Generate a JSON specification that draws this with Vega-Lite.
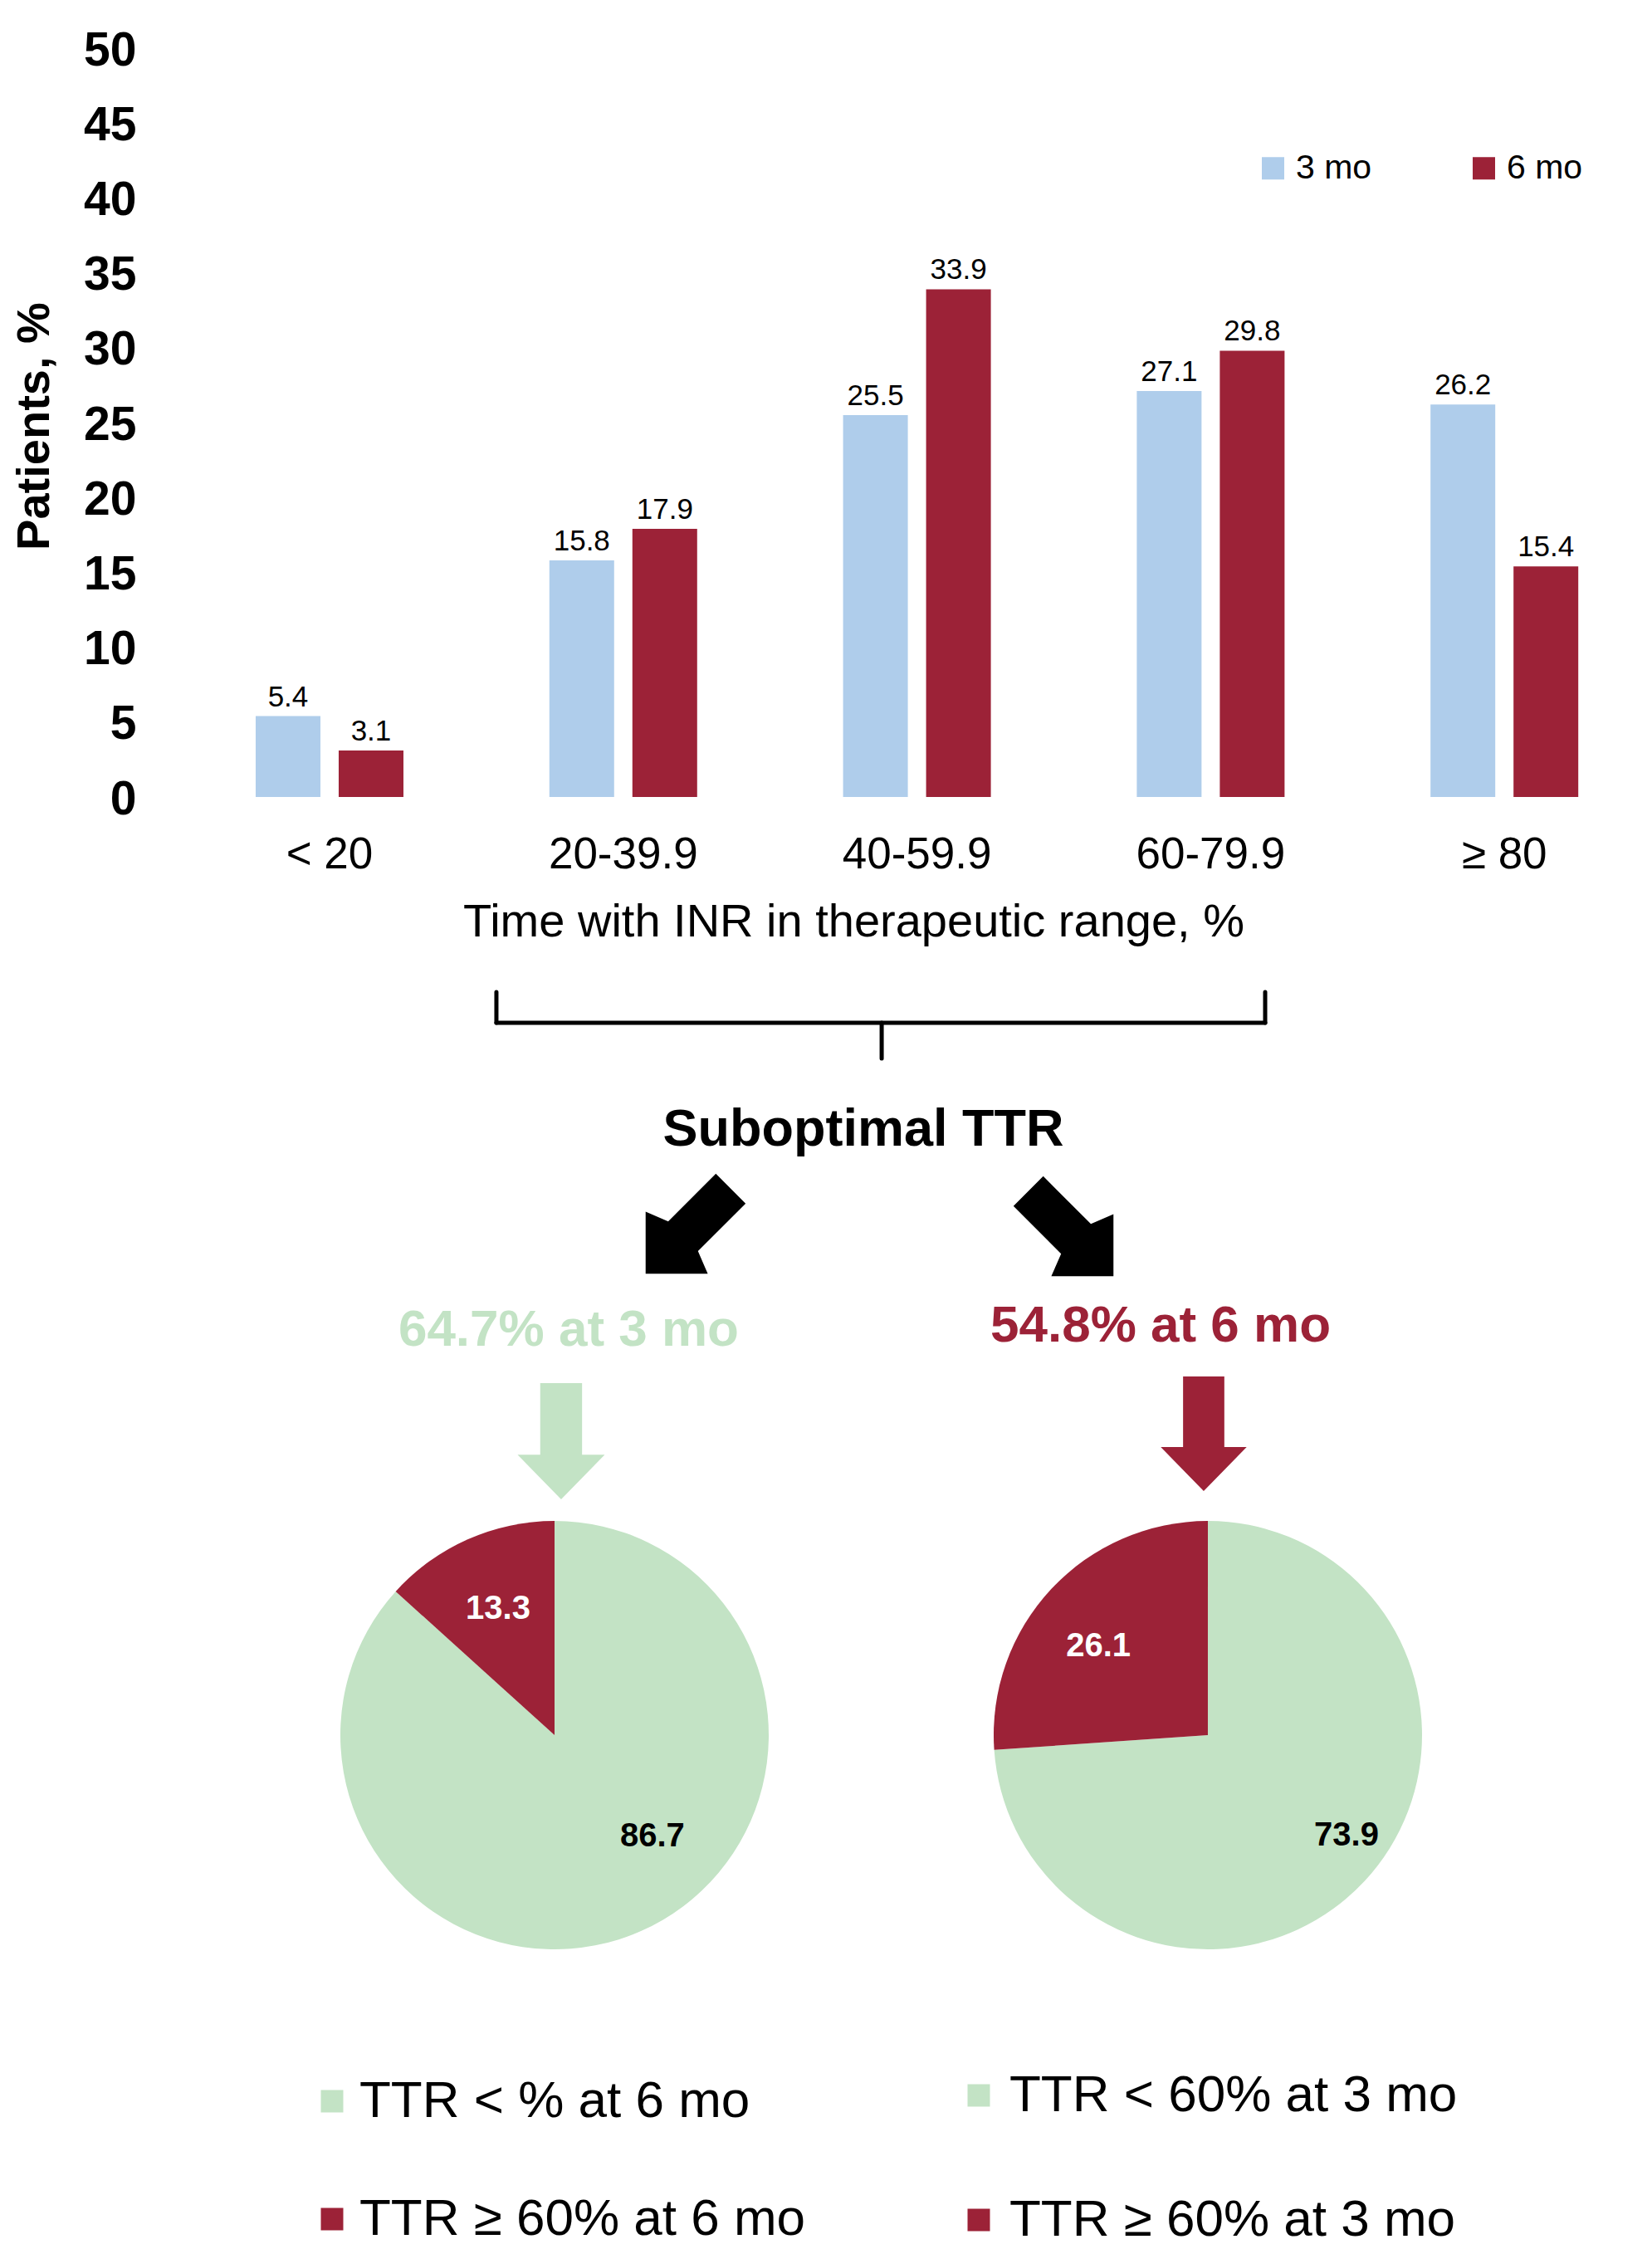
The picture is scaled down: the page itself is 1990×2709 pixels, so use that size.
{
  "$schema": "https://vega.github.io/schema/vega-lite/v6.json",
  "width": 1990,
  "height": 2709,
  "autosize": "none",
  "padding": 0,
  "background": "white",
  "config": {"font": "Liberation Sans", "view": {"stroke": null}},
  "datasets": {
    "bars": [
      {"range": "< 20", "period": "3 mo", "pct": 5.4},
      {"range": "< 20", "period": "6 mo", "pct": 3.1},
      {"range": "20-39.9", "period": "3 mo", "pct": 15.8},
      {"range": "20-39.9", "period": "6 mo", "pct": 17.9},
      {"range": "40-59.9", "period": "3 mo", "pct": 25.5},
      {"range": "40-59.9", "period": "6 mo", "pct": 33.9},
      {"range": "60-79.9", "period": "3 mo", "pct": 27.1},
      {"range": "60-79.9", "period": "6 mo", "pct": 29.8},
      {"range": "≥ 80", "period": "3 mo", "pct": 26.2},
      {"range": "≥ 80", "period": "6 mo", "pct": 15.4}
    ],
    "pies": [
      {"pie": "3 mo", "legend": "TTR < % at 6 mo", "pct": 86.7},
      {"pie": "3 mo", "legend": "TTR ≥ 60% at 6 mo", "pct": 13.3},
      {"pie": "6 mo", "legend": "TTR < 60% at 3 mo", "pct": 73.9},
      {"pie": "6 mo", "legend": "TTR ≥ 60% at 3 mo", "pct": 26.1}
    ],
    "notes": [
      {"id": "brace", "text": ""},
      {"id": "header", "text": "Suboptimal TTR"},
      {"id": "arrow-left", "text": ""},
      {"id": "arrow-right", "text": ""},
      {"id": "title-3", "text": "64.7% at 3 mo"},
      {"id": "title-6", "text": "54.8% at 6 mo"},
      {"id": "down-3", "text": ""},
      {"id": "down-6", "text": ""}
    ]
  },
  "resolve": {"scale": {"color": "independent"}, "legend": {"color": "independent"}},
  "layer": [
    {
      "data": {"name": "bars"},
      "mark": {"type": "bar"},
      "encoding": {
        "x": {
          "field": "range", "type": "nominal",
          "scale": {"domain": ["< 20", "20-39.9", "40-59.9", "60-79.9", "≥ 80"], "paddingInner": 0.43, "paddingOuter": 0.5273, "align": 0.7937, "round": false},
          "axis": {"orient": "bottom", "offset": -1749, "domain": false, "ticks": false, "tickSize": 0, "grid": false,
            "labelPadding": 85, "labelBaseline": "alphabetic", "labelAngle": 0, "labelFontSize": 53, "labelColor": "black", "labelLimit": 1000,
            "title": "Time with INR in therapeutic range, %", "titleFontSize": 56, "titleFontWeight": "normal", "titleColor": "black",
            "titleX": 1028, "titleY": 167, "titleBaseline": "alphabetic", "titleLimit": 2000}
        },
        "xOffset": {"field": "period", "type": "nominal", "scale": {"paddingInner": 0.22, "paddingOuter": 0.1183}},
        "y": {
          "field": "pct", "type": "quantitative",
          "scale": {"domain": [-96.9512, 53.2151], "nice": false, "zero": false},
          "axis": {"orient": "left", "offset": -220, "values": [0, 5, 10, 15, 20, 25, 30, 35, 40, 45, 50], "domain": false, "ticks": false, "tickSize": 0, "grid": false,
            "labelPadding": 56, "labelOffset": 3, "labelFontSize": 57, "labelFontWeight": "bold", "labelColor": "black",
            "title": "Patients, %", "titleFontSize": 56, "titleFontWeight": "bold", "titleColor": "black",
            "titleX": -162, "titleY": 513, "titleBaseline": "alphabetic", "titleAngle": -90}
        },
        "color": {
          "field": "period", "type": "nominal",
          "scale": {"domain": ["3 mo", "6 mo"], "range": ["#afcdeb", "#9c2237"]},
          "legend": {"orient": "none", "legendX": 1513, "legendY": 182, "direction": "horizontal", "title": null, "symbolType": "square", "symbolSize": 729, "symbolStrokeWidth": 0, "labelFontSize": 41, "labelColor": "black", "labelOffset": 7, "columnPadding": 114, "padding": 0}
        }
      }
    },
    {
      "data": {"name": "bars"},
      "mark": {"type": "text", "baseline": "alphabetic", "dy": -12, "fontSize": 35, "color": "black"},
      "encoding": {
        "x": {"field": "range", "type": "nominal"},
        "xOffset": {"field": "period", "type": "nominal"},
        "y": {"field": "pct", "type": "quantitative"},
        "text": {"field": "pct", "type": "quantitative", "format": ".1f"}
      }
    },
    {
      "data": {"name": "notes"},
      "transform": [{"filter": "datum.id === 'brace'"}],
      "mark": {"type": "rule", "strokeWidth": 5, "color": "black", "strokeCap": "round"},
      "encoding": {
        "x": {"datum": "20-39.9", "type": "nominal", "bandPosition": -0.2578},
        "y": {"datum": -13.03, "type": "quantitative"},
        "y2": {"datum": -15.08}
      }
    },
    {
      "data": {"name": "notes"},
      "transform": [{"filter": "datum.id === 'brace'"}],
      "mark": {"type": "rule", "strokeWidth": 5, "color": "black", "strokeCap": "round"},
      "encoding": {
        "x": {"datum": "60-79.9", "type": "nominal", "bandPosition": 0.8254},
        "y": {"datum": -13.03, "type": "quantitative"},
        "y2": {"datum": -15.08}
      }
    },
    {
      "data": {"name": "notes"},
      "transform": [{"filter": "datum.id === 'brace'"}],
      "mark": {"type": "rule", "strokeWidth": 5, "color": "black", "strokeCap": "round"},
      "encoding": {
        "x": {"datum": "20-39.9", "type": "nominal", "bandPosition": -0.2578},
        "x2": {"datum": "60-79.9", "bandPosition": 0.8254},
        "y": {"datum": -15.08, "type": "quantitative"}
      }
    },
    {
      "data": {"name": "notes"},
      "transform": [{"filter": "datum.id === 'brace'"}],
      "mark": {"type": "rule", "strokeWidth": 5, "color": "black", "strokeCap": "round"},
      "encoding": {
        "x": {"datum": "40-59.9", "type": "nominal", "bandPosition": 0.2892},
        "y": {"datum": -15.08, "type": "quantitative"},
        "y2": {"datum": -17.46}
      }
    },
    {
      "data": {"name": "notes"},
      "transform": [{"filter": "datum.id === 'header'"}],
      "mark": {"type": "text", "fontSize": 63, "fontWeight": "bold", "color": "black", "baseline": "alphabetic", "align": "center"},
      "encoding": {
        "x": {"datum": "40-59.9", "type": "nominal", "bandPosition": 0.1794},
        "y": {"datum": -23.28, "type": "quantitative"},
        "text": {"field": "text"}
      }
    },
    {
      "data": {"name": "notes"},
      "transform": [{"filter": "datum.id === 'arrow-left'"}],
      "mark": {"type": "point", "shape": "M-0.35,-1L0.35,-1L0.35,0.12L0.73,0.27L0,1L-0.73,0.27L-0.35,0.12Z", "size": 21025, "angle": 45, "filled": true, "color": "black", "opacity": 1, "strokeWidth": 0},
      "encoding": {
        "x": {"datum": "20-39.9", "type": "nominal", "bandPosition": 0.8878},
        "y": {"datum": -28.99, "type": "quantitative"}
      }
    },
    {
      "data": {"name": "notes"},
      "transform": [{"filter": "datum.id === 'arrow-right'"}],
      "mark": {"type": "point", "shape": "M-0.35,-1L0.35,-1L0.35,0.12L0.73,0.27L0,1L-0.73,0.27L-0.35,0.12Z", "size": 21025, "angle": 315, "filled": true, "color": "black", "opacity": 1, "strokeWidth": 0},
      "encoding": {
        "x": {"datum": "40-59.9", "type": "nominal", "bandPosition": 1.4194},
        "y": {"datum": -29.16, "type": "quantitative"}
      }
    },
    {
      "data": {"name": "notes"},
      "transform": [{"filter": "datum.id === 'title-3'"}],
      "mark": {"type": "text", "fontSize": 62, "fontWeight": "bold", "color": "#c3e3c5", "baseline": "alphabetic", "align": "center"},
      "encoding": {
        "x": {"datum": "20-39.9", "type": "nominal", "bandPosition": 0.1736},
        "y": {"datum": -36.64, "type": "quantitative"},
        "text": {"field": "text"}
      }
    },
    {
      "data": {"name": "notes"},
      "transform": [{"filter": "datum.id === 'title-6'"}],
      "mark": {"type": "text", "fontSize": 62, "fontWeight": "bold", "color": "#9c2237", "baseline": "alphabetic", "align": "center"},
      "encoding": {
        "x": {"datum": "60-79.9", "type": "nominal", "bandPosition": 0.2006},
        "y": {"datum": -36.36, "type": "quantitative"},
        "text": {"field": "text"}
      }
    },
    {
      "data": {"name": "notes"},
      "transform": [{"filter": "datum.id === 'down-3'"}],
      "mark": {"type": "point", "shape": "M-0.36,-1L0.36,-1L0.36,0.23L0.75,0.23L0,1L-0.75,0.23L-0.36,0.23Z", "size": 19600, "filled": true, "color": "#c3e3c5", "opacity": 1, "strokeWidth": 0},
      "encoding": {
        "x": {"datum": "20-39.9", "type": "nominal", "bandPosition": 0.129},
        "y": {"datum": -43.02, "type": "quantitative"}
      }
    },
    {
      "data": {"name": "notes"},
      "transform": [{"filter": "datum.id === 'down-6'"}],
      "mark": {"type": "point", "shape": "M-0.36,-1L0.36,-1L0.36,0.23L0.75,0.23L0,1L-0.75,0.23L-0.36,0.23Z", "size": 19044, "filled": true, "color": "#9c2237", "opacity": 1, "strokeWidth": 0},
      "encoding": {
        "x": {"datum": "60-79.9", "type": "nominal", "bandPosition": 0.4583},
        "y": {"datum": -42.52, "type": "quantitative"}
      }
    },
    {
      "data": {"name": "pies"},
      "transform": [{"filter": "datum.pie === '3 mo'"}],
      "mark": {"type": "arc", "outerRadius": 258},
      "encoding": {
        "x": {"datum": "20-39.9", "type": "nominal", "bandPosition": 0.0895},
        "y": {"datum": -62.64, "type": "quantitative"},
        "theta": {"field": "pct", "type": "quantitative", "stack": true},
        "order": {"field": "pct", "sort": "descending"},
        "color": {
          "field": "legend", "type": "nominal",
          "scale": {"domain": ["TTR < % at 6 mo", "TTR ≥ 60% at 6 mo"], "range": ["#c3e3c5", "#9c2237"]},
          "legend": {"orient": "none", "legendX": 369, "legendY": 2500, "direction": "vertical", "title": null, "symbolType": "square", "symbolSize": 729, "symbolStrokeWidth": 0, "labelFontSize": 62, "labelColor": "black", "labelOffset": 2, "rowPadding": 80, "labelLimit": 1000, "padding": 0}
        }
      }
    },
    {
      "data": {"name": "pies"},
      "transform": [{"filter": "datum.pie === '6 mo'"}],
      "mark": {"type": "arc", "outerRadius": 258},
      "encoding": {
        "x": {"datum": "60-79.9", "type": "nominal", "bandPosition": 0.4831},
        "y": {"datum": -62.64, "type": "quantitative"},
        "theta": {"field": "pct", "type": "quantitative", "stack": true},
        "order": {"field": "pct", "sort": "descending"},
        "color": {
          "field": "legend", "type": "nominal",
          "scale": {"domain": ["TTR < 60% at 3 mo", "TTR ≥ 60% at 3 mo"], "range": ["#c3e3c5", "#9c2237"]},
          "legend": {"orient": "none", "legendX": 1148, "legendY": 2493, "direction": "vertical", "title": null, "symbolType": "square", "symbolSize": 729, "symbolStrokeWidth": 0, "labelFontSize": 62, "labelColor": "black", "labelOffset": 6, "rowPadding": 88, "labelLimit": 1000, "padding": 0}
        }
      }
    },
    {
      "data": {"name": "pies"},
      "transform": [{"filter": "datum.legend === 'TTR ≥ 60% at 6 mo'"}],
      "mark": {"type": "text", "fontSize": 40, "fontWeight": "bold", "color": "white", "baseline": "alphabetic", "align": "center"},
      "encoding": {
        "x": {"datum": "20-39.9", "type": "nominal", "bandPosition": -0.2479},
        "y": {"datum": -54.88, "type": "quantitative"},
        "text": {"field": "pct", "type": "quantitative", "format": ".1f"}
      }
    },
    {
      "data": {"name": "pies"},
      "transform": [{"filter": "datum.legend === 'TTR < % at 6 mo'"}],
      "mark": {"type": "text", "fontSize": 40, "fontWeight": "bold", "color": "black", "baseline": "alphabetic", "align": "center"},
      "encoding": {
        "x": {"datum": "20-39.9", "type": "nominal", "bandPosition": 0.6741},
        "y": {"datum": -70.07, "type": "quantitative"},
        "text": {"field": "pct", "type": "quantitative", "format": ".1f"}
      }
    },
    {
      "data": {"name": "pies"},
      "transform": [{"filter": "datum.legend === 'TTR ≥ 60% at 3 mo'"}],
      "mark": {"type": "text", "fontSize": 40, "fontWeight": "bold", "color": "white", "baseline": "alphabetic", "align": "center"},
      "encoding": {
        "x": {"datum": "60-79.9", "type": "nominal", "bandPosition": -0.1708},
        "y": {"datum": -57.37, "type": "quantitative"},
        "text": {"field": "pct", "type": "quantitative", "format": ".1f"}
      }
    },
    {
      "data": {"name": "pies"},
      "transform": [{"filter": "datum.legend === 'TTR < 60% at 3 mo'"}],
      "mark": {"type": "text", "fontSize": 40, "fontWeight": "bold", "color": "black", "baseline": "alphabetic", "align": "center"},
      "encoding": {
        "x": {"datum": "60-79.9", "type": "nominal", "bandPosition": 1.3111},
        "y": {"datum": -70.01, "type": "quantitative"},
        "text": {"field": "pct", "type": "quantitative", "format": ".1f"}
      }
    }
  ]
}
